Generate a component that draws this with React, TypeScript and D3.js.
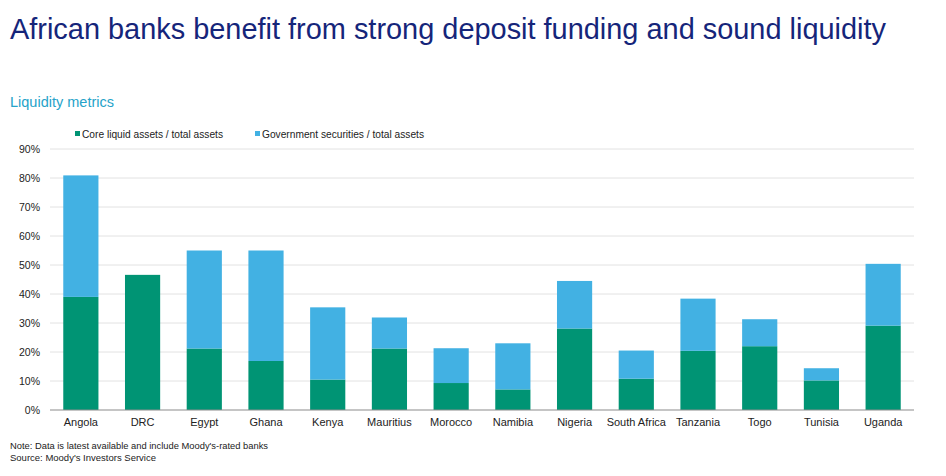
import React, { useEffect, useRef } from 'react';
import * as d3 from 'd3';

const countries = ['Angola', 'DRC', 'Egypt', 'Ghana', 'Kenya', 'Mauritius', 'Morocco', 'Namibia', 'Nigeria', 'South Africa', 'Tanzania', 'Togo', 'Tunisia', 'Uganda'];
const coreLiquid = [39.0, 46.6, 21.2, 16.9, 10.5, 21.2, 9.3, 7.1, 28.1, 10.8, 20.4, 22.0, 10.2, 29.1];
const govSecurities = [41.9, 0, 33.8, 38.1, 24.9, 10.7, 12.0, 15.9, 16.4, 9.7, 18.0, 9.3, 4.2, 21.3];
const yTicks = [0, 10, 20, 30, 40, 50, 60, 70, 80, 90];
const seriesNames = ['Core liquid assets / total assets', 'Government securities / total assets'];
const seriesColors = ['#009474', '#42B1E3'];

const W = 946;
const H = 476;

const App: React.FC = () => {
    const svgRef = useRef<SVGSVGElement | null>(null);

    useEffect(() => {
        if (!svgRef.current) return;
        const svg = d3.select(svgRef.current);
        svg.selectAll('*').remove();

        const margin = { top: 149, right: 32, bottom: 66, left: 50 };
        const font = 'Liberation Sans, Arial, sans-serif';

        const x = d3.scaleBand<string>()
            .domain(countries)
            .range([margin.left, W - margin.right])
            .paddingInner(0.43)
            .paddingOuter(0.215);

        const y = d3.scaleLinear()
            .domain([0, 90])
            .range([H - margin.bottom, margin.top]);

        // title + subtitle
        svg.append('text')
            .attr('x', 10).attr('y', 39)
            .attr('font-family', font).attr('font-size', 30)
            .attr('fill', '#15257A')
            .attr('textLength', 876).attr('lengthAdjust', 'spacingAndGlyphs')
            .text('African banks benefit from strong deposit funding and sound liquidity');

        svg.append('text')
            .attr('x', 10).attr('y', 107)
            .attr('font-family', font).attr('font-size', 14.5)
            .attr('fill', '#26A3C9')
            .attr('textLength', 104).attr('lengthAdjust', 'spacingAndGlyphs')
            .text('Liquidity metrics');

        // legend
        const legendX = [75, 255];
        const legendW = [141, 162];
        seriesNames.forEach((name, i) => {
            svg.append('rect')
                .attr('x', legendX[i]).attr('y', 131)
                .attr('width', 5).attr('height', 5)
                .attr('fill', seriesColors[i]);
            svg.append('text')
                .attr('x', legendX[i] + 7).attr('y', 137.5)
                .attr('font-family', font).attr('font-size', 10.5)
                .attr('fill', '#222')
                .attr('textLength', legendW[i]).attr('lengthAdjust', 'spacingAndGlyphs')
                .text(name);
        });

        // gridlines
        svg.append('g')
            .selectAll('line')
            .data(yTicks.filter(t => t > 0))
            .join('line')
            .attr('x1', margin.left).attr('x2', W - margin.right)
            .attr('y1', d => y(d)).attr('y2', d => y(d))
            .attr('stroke', '#e2e2e2').attr('stroke-width', 1);

        // y axis labels
        const yAxis = d3.axisLeft(y)
            .tickValues(yTicks)
            .tickFormat(d => `${d}%`)
            .tickSize(0)
            .tickPadding(10);

        svg.append('g')
            .attr('transform', `translate(${margin.left},0)`)
            .call(yAxis)
            .call(g => g.select('.domain').remove())
            .call(g => g.selectAll('text')
                .attr('font-family', font).attr('font-size', 10.5).attr('fill', '#222'));

        // stacked bars
        const rows = countries.map((c, i) => ({ country: c, core: coreLiquid[i], gov: govSecurities[i] }));
        const stack = d3.stack<any>().keys(['core', 'gov'])(rows);

        svg.append('g')
            .selectAll('g')
            .data(stack)
            .join('g')
            .attr('fill', (_, i) => seriesColors[i])
            .selectAll('rect')
            .data(d => d.filter(s => s[1] - s[0] > 0))
            .join('rect')
            .attr('x', d => x(d.data.country)!)
            .attr('width', x.bandwidth())
            .attr('y', d => y(d[1]))
            .attr('height', d => y(d[0]) - y(d[1]));

        // x axis
        const xAxis = d3.axisBottom(x).tickSize(0).tickPadding(8);
        svg.append('g')
            .attr('transform', `translate(0,${y(0)})`)
            .call(xAxis)
            .call(g => g.select('.domain').attr('stroke', '#8c8c8c').attr('stroke-width', 1.2)
                .attr('d', `M${margin.left},0H${W - margin.right}`))
            .call(g => g.selectAll('text')
                .attr('font-family', font).attr('font-size', 11).attr('fill', '#222'));

        // notes
        svg.append('text')
            .attr('x', 10).attr('y', 449)
            .attr('font-family', font).attr('font-size', 9.5).attr('fill', '#222')
            .attr('textLength', 258).attr('lengthAdjust', 'spacingAndGlyphs')
            .text("Note: Data is latest available and include Moody's-rated banks");
        svg.append('text')
            .attr('x', 10).attr('y', 461)
            .attr('font-family', font).attr('font-size', 9.5).attr('fill', '#222')
            .attr('textLength', 146).attr('lengthAdjust', 'spacingAndGlyphs')
            .text("Source: Moody's Investors Service");
    }, []);

    return (
        <svg ref={svgRef} width={W} height={H}
            style={{ position: 'absolute', left: 0, top: 0, background: '#fff' }} />
    );
};

export default App;
